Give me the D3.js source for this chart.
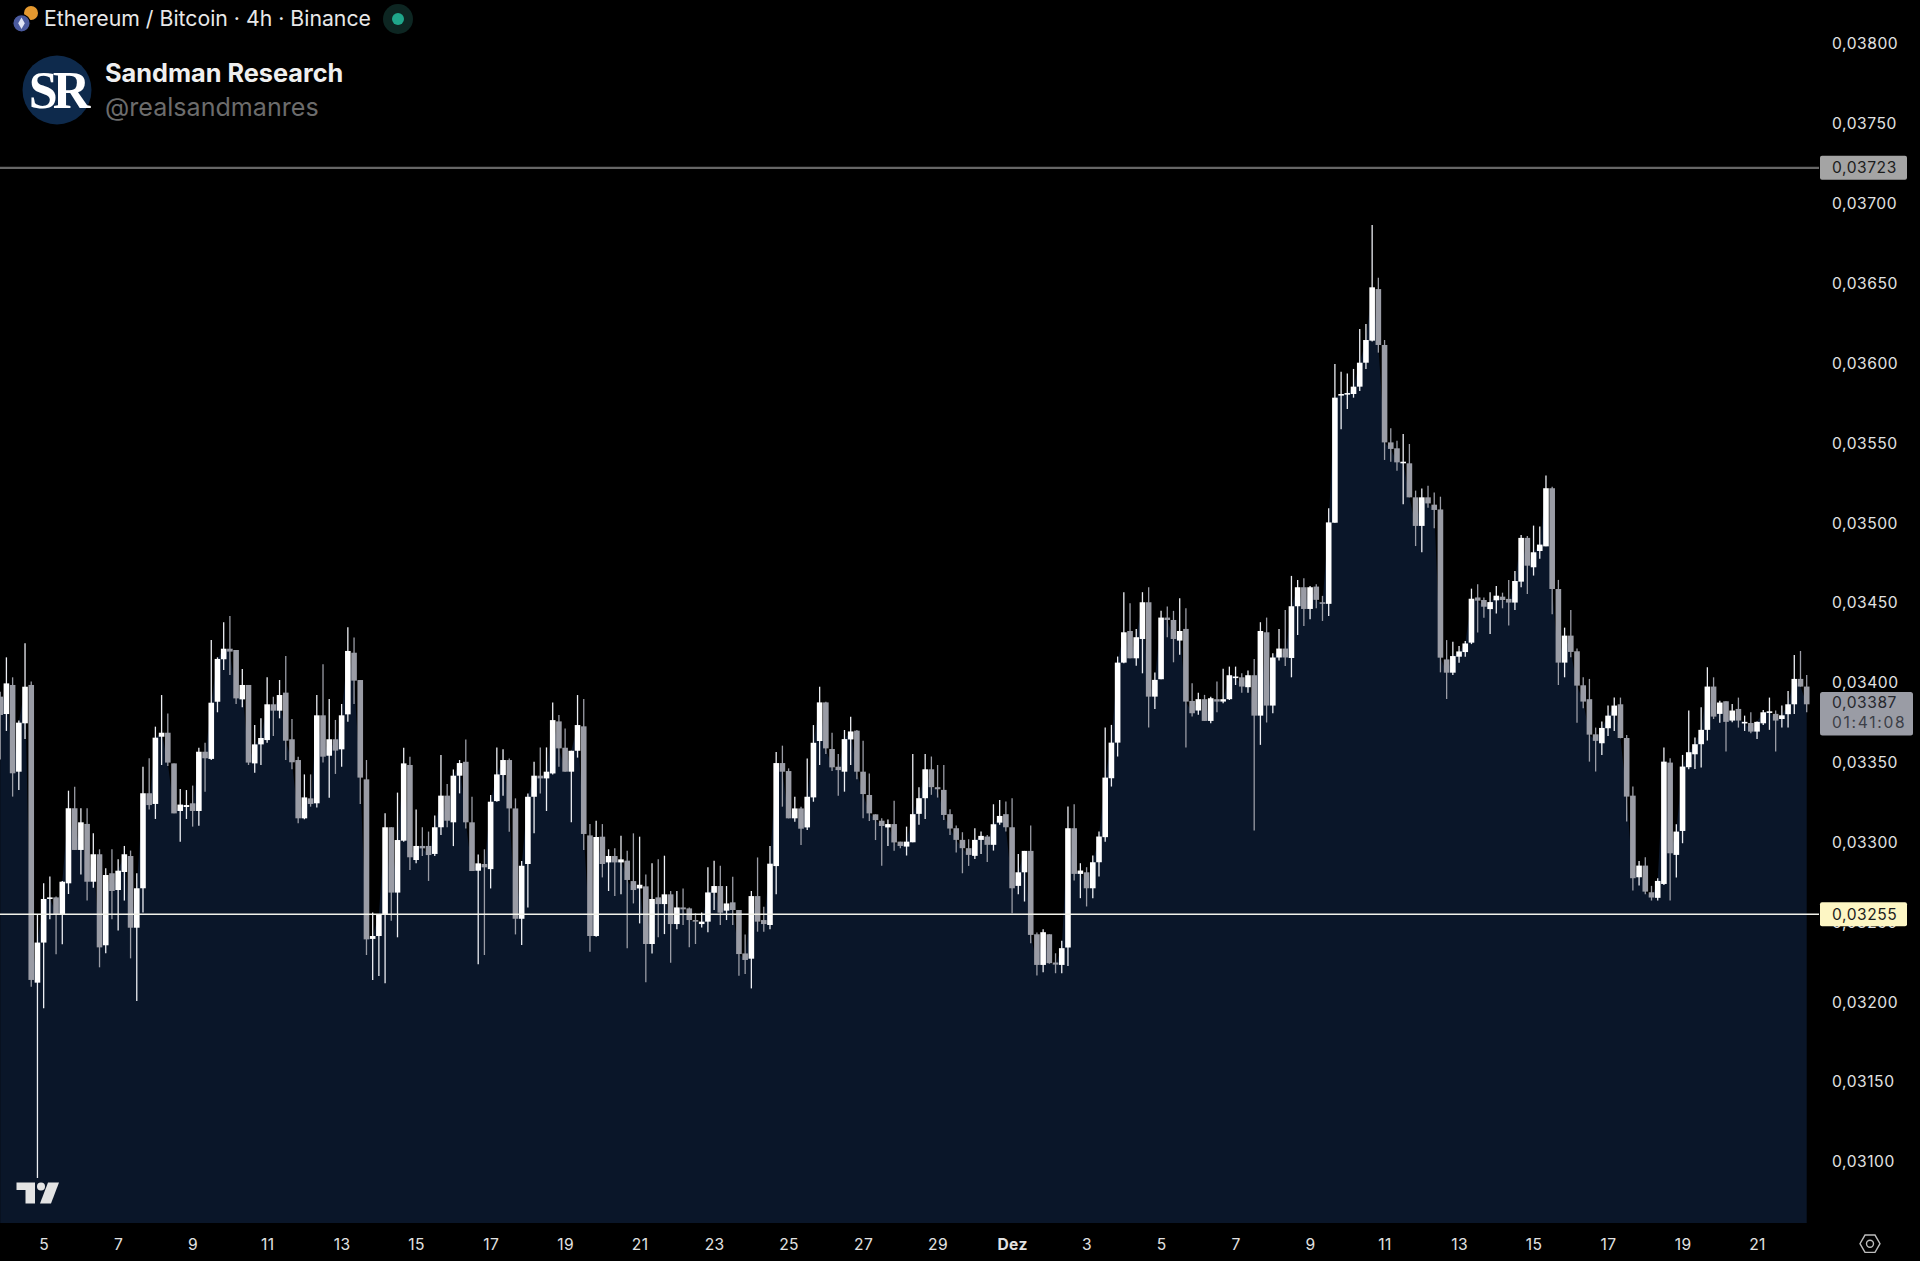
<!DOCTYPE html>
<html><head><meta charset="utf-8">
<style>html,body{margin:0;padding:0;background:#000;overflow:hidden}svg{display:block}text{font-family:Inter,"Noto Sans",sans-serif}</style>
<script src="https://cdn.jsdelivr.net/npm/d3@7/dist/d3.min.js"></script>
</head><body><svg id="c" width="1920" height="1261"></svg>
<script>
// Prices in units of 0.00001 BTC
const opens=[3390.9,3380.0,3398.2,3343.9,3374.2,3398.2,3211.8,3236.9,3264.4,3265.2,
3254.6,3274,3321,3294.9,3311.2,3275,3292.2,3235.2,3280.3,3269.8,
3281.1,3291.1,3246.2,3270.9,3330.4,3323.7,3365.8,3368.3,3349.1,3319.3,
3321.8,3324.1,3319.3,3356.4,3351.9,3387.7,3414.3,3420.9,3420.1,3389.2,
3398.2,3349.1,3361,3363.7,3386.1,3382.1,3393.4,3364.2,3351.2,3314.7,
3327.2,3324.1,3379.2,3353.9,3364.2,3357.9,3379.8,3418.4,3401.3,3339.1,
3239.2,3241,3254.6,3309.1,3268.2,3300.7,3348.1,3288.6,3297.4,3297.4,
3292.4,3309.1,3328.9,3312.2,3341.4,3350.1,3312.2,3281.9,3286.1,3282.9,
3325.5,3341.8,3351.2,3320.9,3251.8,3286.1,3328.2,3341.4,3339.7,3342.8,
3375.4,3358.9,3343.9,3357,3372.3,3304,3241,3303.2,3287.1,3291.1,
3287.1,3288.2,3275.4,3270.8,3272.1,3236,3265.2,3261,3267.1,3248.5,
3258.9,3258.3,3251,3248.5,3250,3268.1,3272.3,3256.9,3262.1,3257.3,
3230.1,3226.8,3266,3251,3247.9,3284.8,3349.3,3344.3,3314.7,3320.9,
3309,3327.8,3363.1,3387.3,3358.1,3347,3343.9,3364.1,3369.6,3343.9,
3329.3,3317.2,3313.2,3309,3311.1,3300.1,3297,3299.7,3317.5,3327.3,
3345.4,3334.2,3332.5,3317.3,3308.5,3301.2,3296,3291.2,3301.2,3303.3,
3298.1,3312,3317.3,3309.1,3272.4,3280.9,3294.3,3242.1,3222.9,3242.1,
3224.4,3222.9,3233.8,3308.5,3279.9,3280.9,3270.9,3287.2,3302.9,3339.8,
3362.1,3412.2,3432,3414.9,3427,3450,3390.9,3401.8,3440.4,3438.9,
3426,3433.3,3388.2,3382.2,3389.3,3375.7,3389.3,3387.8,3389.3,3402.6,
3403,3396.8,3404.3,3379,3431.2,3385.3,3415.4,3421,3415.1,3447.5,
3459.4,3445.8,3459.8,3450,3449,3499.8,3579.4,3580,3580.4,3585,
3600,3613.8,3646.1,3611.1,3550.1,3546.4,3537,3537,3515.7,3497.8,
3515.7,3511.1,3508.1,3414.2,3405.9,3415.9,3418.8,3424.7,3453,3451.4,
3445.7,3451.2,3453.5,3452.1,3449.8,3462.9,3490.3,3471.9,3482.1,3485,
3521.4,3458.3,3412.2,3429.1,3419.3,3398,3389.3,3367.3,3361.7,3371.1,
3379,3386.1,3365,3328.9,3277.8,3285.1,3268.4,3264.9,3273.6,3349.6,
3291.8,3306.8,3346.7,3354.8,3361.1,3370.1,3397.2,3380.1,3388,3375.9,
3383.2,3374.4,3374.4,3369,3374.2,3380.9,3380.1,3376.9,3379.9,3386.1,3402,3397.2];
const highs=[3394,3415.5,3403,3375.9,3424.3,3400.3,3254.2,3274,3278.2,3265.7,
3275.5,3332,3334.5,3321,3321,3305.3,3295.3,3283.4,3295.3,3289,
3297.4,3294.5,3280.3,3347,3352.3,3372.1,3391.9,3380.4,3349.1,3333.1,
3332.4,3335.2,3358.9,3362.1,3426.4,3415.5,3437.4,3441.4,3420.1,3408.2,
3398.2,3373.1,3377.3,3403,3390.9,3401.3,3416.3,3376.9,3353.3,3342.2,
3342.2,3391.9,3411.1,3389.4,3376.3,3386.3,3434.3,3428,3401.3,3351.2,
3255.8,3254.6,3317.8,3309.1,3330.8,3358.9,3353.3,3320.3,3309.1,3306.4,
3316.4,3354.4,3336.2,3345.3,3351.2,3364.1,3328.2,3292.1,3295.3,3329.3,
3359.1,3357.9,3352.2,3327.2,3288,3330.3,3350.1,3359.1,3359.1,3387.3,
3379.4,3371,3357,3391.9,3389.4,3311.1,3313.2,3311.1,3295.3,3295.9,
3303.8,3294.4,3305.3,3303.2,3279.6,3286.5,3289,3291.3,3269.2,3269.2,
3270.8,3258.9,3255.2,3255.8,3284,3288.2,3285,3272.3,3278.1,3257.3,
3242,3269.2,3290.2,3259.4,3297.3,3356.2,3360.2,3346,3328.2,3322,
3352.2,3373.1,3397.1,3387.7,3368.3,3354.9,3370,3378.3,3370,3363.3,
3342.8,3317.2,3314.7,3314,3325.7,3300.1,3309.5,3355,3334.2,3355,
3353.4,3348.1,3348.1,3320.4,3310.2,3306,3301.6,3308.5,3306.4,3304.3,
3323.5,3326.2,3325.2,3327.3,3292.4,3294.3,3310.2,3243.2,3245.3,3242.1,
3230.2,3238,3322.1,3323.5,3286.6,3284.1,3291.4,3306.4,3371.5,3373.2,
3416,3456.3,3449.4,3433.3,3456.3,3459.4,3406,3444.6,3447.3,3444.6,
3452.5,3446.2,3399.3,3393.4,3392,3390.9,3400.3,3408.3,3409.7,3409.7,
3405.5,3407.2,3414.5,3437.5,3440.4,3418.1,3433.3,3445.2,3466.5,3464,
3465,3460.2,3461.3,3454,3508.8,3599.2,3594.4,3593.3,3596.1,3621.1,
3624.2,3686.2,3653.2,3614.2,3558.9,3551.2,3555.4,3549.1,3519.9,3521.3,
3523,3518.8,3516.1,3426.3,3425.3,3422.6,3425.7,3458.5,3461.2,3453,
3456.2,3460.1,3456,3464,3469.6,3492.1,3491.5,3498,3497.4,3529.3,
3522.4,3464,3434.1,3445.2,3421,3403,3402,3371.5,3375.3,3385.3,
3390.3,3390.3,3366.9,3334.6,3288,3290.3,3272.4,3277.2,3359,3352.3,
3311,3354.4,3382.2,3365.3,3384.2,3409.3,3403,3388.4,3388,3386.3,
3390.3,3379,3381.1,3375.3,3382.6,3390.3,3382.2,3385.3,3394.5,3417,3419.5,3404.5];
const lows=[3351.6,3369.4,3328.3,3332.4,3364.4,3209.3,3089.5,3195.7,3251.5,3229.6,
3235.8,3267.3,3294.9,3279.6,3263.2,3271.3,3221.4,3230.2,3251.5,3244.4,
3263.2,3227,3200.3,3255.8,3320.3,3314.3,3348.1,3347.5,3317.8,3300.1,
3314.3,3309.5,3310.1,3331.4,3351.2,3381.1,3407.6,3404.4,3386.3,3384.2,
3348.1,3343.3,3348.1,3362.1,3366.3,3377.3,3351.2,3345.4,3311.6,3314.1,
3322,3321.4,3349.6,3327.6,3342.5,3347,3375.2,3386.3,3323.7,3229.1,
3213.5,3216,3211.4,3250.6,3240.2,3300.1,3282.4,3286.5,3291.1,3275.5,
3291.1,3304.3,3309.1,3297.3,3330.3,3308.4,3281.7,3223.3,3229.1,3270.8,
3325.1,3328.9,3306.3,3242,3235.4,3258.9,3305.3,3330.3,3319.3,3342.2,
3347,3343.9,3312.2,3352.7,3294.8,3231.2,3240.6,3277.7,3269.2,3266,
3267.1,3233.3,3261.4,3248.9,3212,3230.1,3240.2,3242.2,3224.3,3245.2,
3247.9,3233.9,3236,3246.4,3243.3,3257.3,3247.9,3251,3247.9,3216.2,
3217.2,3208.2,3243.7,3243.7,3245.2,3267.1,3322,3314.7,3312.6,3298,
3307.4,3325.1,3348.1,3354.9,3344.3,3328.9,3331.4,3348.1,3339.1,3314.7,
3313,3301.1,3285,3297.3,3294.4,3296,3291.4,3299.7,3310.6,3314.3,
3329.4,3327.7,3313.7,3304.3,3293.3,3280.3,3284.9,3289.3,3292.4,3287.4,
3294.5,3310.6,3306.4,3255.3,3267.2,3262.6,3236.5,3216.3,3218.3,3223.6,
3217.7,3217.7,3222.3,3275.7,3264.7,3259.5,3264.7,3278.2,3300.1,3334.6,
3353.4,3411.8,3414.9,3410.3,3405.5,3371.5,3383.2,3401.8,3428.1,3412.4,
3417.2,3359,3378.4,3379.5,3375.7,3374.2,3381.1,3386.8,3388.8,3398.2,
3393.4,3393.4,3307,3360.7,3374.7,3380.5,3413.5,3410.1,3403,3429.5,
3435.2,3439.4,3446.2,3438.3,3441.4,3499.8,3558.3,3571,3578.1,3582.3,
3596.1,3613.2,3606.3,3539.1,3538,3532.4,3511.3,3515.7,3485.2,3481.3,
3509.2,3496.3,3406.1,3389.4,3404.4,3412.1,3415.9,3423.8,3431.1,3440.3,
3430.1,3443,3446.2,3435.4,3445.2,3459.4,3455.2,3466.7,3477.3,3485,
3442.5,3398.2,3403,3415.5,3374.6,3383.6,3350.2,3344,3354.4,3366.3,
3369.4,3364.8,3312.7,3269.5,3272.6,3267.2,3263.2,3263.2,3273,3263.2,
3277.6,3299.1,3345.4,3345.6,3346.5,3363.4,3376.9,3374.6,3356.5,3374.9,
3371.5,3369.4,3368,3364.4,3373.2,3370.1,3356.5,3371.5,3371.5,3380.1,3397.2,3381.1];
const closes=[3379.4,3399.2,3342.9,3374.6,3397.1,3213.5,3236.9,3264.2,3265.2,3254.6,
3275,3321,3294.9,3312.2,3275,3292.2,3233.9,3279.2,3269.2,3281.9,
3292.2,3246.2,3270.9,3330.4,3323,3365.2,3368.3,3349.6,3317.8,3323.3,
3323,3319.3,3356.4,3352.3,3387.1,3414.5,3420.9,3419.1,3389.8,3398.2,
3349.6,3361,3365,3386.1,3382.1,3391.9,3363.3,3349.8,3314.7,3327.8,
3323.7,3379.2,3353.3,3364.2,3357.1,3379.2,3419.5,3400.9,3340.2,3238.9,
3241,3254.6,3309.1,3268.2,3301.1,3349.1,3290.3,3297.4,3295.9,3291.7,
3309.1,3328.9,3313.2,3341.4,3349.3,3312.2,3281.7,3286.5,3284,3325.1,
3342.2,3351.2,3320.9,3251.8,3285,3328.2,3341.4,3339.7,3343.9,3376.2,
3358.5,3343.9,3357,3373.1,3304.9,3241,3303,3286.1,3291.1,3287.1,
3289,3276.1,3269.8,3273.1,3236,3264.2,3261,3267.1,3248.5,3258.9,
3257.7,3251,3250,3250,3268.3,3272.3,3255.6,3261.4,3257.3,3229.7,
3226,3266,3250,3248.5,3286.3,3349.3,3343.9,3314.7,3320.9,3308.2,
3328.2,3362,3387.3,3358.5,3346.6,3344.9,3364.3,3369.1,3343.9,3329.9,
3317.8,3313.6,3309.9,3311.1,3299.6,3297.4,3300.1,3317.3,3327.3,3345.4,
3334.2,3332.9,3316.8,3308.3,3301.2,3296,3291.8,3301.2,3303.7,3298.1,
3311,3316.2,3309.1,3270.9,3280.9,3294.3,3241.7,3222.9,3243.4,3224,
3223.1,3233.4,3308.5,3279.9,3282,3270.9,3287.2,3303.3,3340.2,3362.1,
3412.2,3431.2,3414.9,3428.1,3450,3390.9,3401.4,3440.4,3438.9,3427,
3432,3387.8,3380.5,3389.3,3375.7,3389.9,3387.8,3389.3,3404.3,3403.5,
3397.2,3404.3,3379,3432,3385.3,3415.4,3421,3415.4,3447.5,3459.4,
3445.8,3459.4,3451.5,3449.2,3500,3578.1,3580.4,3581,3585,3600,
3614.2,3647.2,3611.1,3550.1,3546,3537.6,3538,3515.7,3497.8,3515.7,
3511.9,3507.8,3415.3,3405.9,3416.3,3419.2,3424.2,3452.2,3451,3447.2,
3450.1,3454.1,3451.4,3449.8,3463.3,3490.3,3472.9,3481.3,3486.1,3521.4,
3458.3,3412.2,3429.1,3418.9,3397.8,3387.8,3367.1,3363.2,3371.3,3379,
3385.3,3365,3328.3,3277.2,3285.1,3268.8,3265.1,3275.5,3350.2,3292.8,
3306.4,3347.1,3356.1,3361.1,3370.1,3397.2,3378.4,3387.2,3375.1,3382.2,
3375.9,3375.1,3369,3375.1,3381.1,3381.7,3375.9,3379.2,3386.1,3402,3397.2,3386.1];

const priceTicks=[3800,3750,3700,3650,3600,3550,3500,3450,3400,3350,3300,3250,3200,3150,3100];
const dateLabels=["5","7","9","11","13","15","17","19","21","23","25","27","29","Dez","3","5","7","9","11","13","15","17","19","21"];
const dateFirstIndex=7, dateStep=12;
const resistance=3722, support=3254.6;
const resistanceLabel="0,03723", supportLabel="0,03255", lastLabel="0,03387", countdown="01:41:08";
const title="Ethereum / Bitcoin · 4h · Binance", brand="Sandman Research", handle="@realsandmanres";

const W=1920,H=1261,plotBottom=1223,lineRight=1819;
const svg=d3.select("#c");
const x=d3.scaleLinear().domain([0,291]).range([0.2,1806.7]);
const y=d3.scaleLinear().domain([3800,3100]).range([43.3,1161.2]);
const fmt=v=>d3.format(".5f")(v/1e5).replace(".",",");
const UP="#ffffff",DOWN="#9a9ca5",TICK="#e2e2e2",FONT="Inter, 'Noto Sans', sans-serif";
const idx=d3.range(closes.length);

svg.append("rect").attr("width",W).attr("height",H).attr("fill","#000");

// area
svg.append("path").attr("fill","#0a1629")
 .attr("d",d3.area().x(i=>x(i)).y0(plotBottom).y1(i=>y(closes[i]))(idx));

// wicks & bodies
const g=svg.append("g");
g.selectAll("line.w").data(idx).join("line").attr("class","w")
 .attr("x1",i=>x(i)).attr("x2",i=>x(i)).attr("y1",i=>y(highs[i])).attr("y2",i=>y(lows[i]))
 .attr("stroke",i=>closes[i]>=opens[i]?"#eceef3":DOWN).attr("stroke-width",1.3);
g.selectAll("rect.b").data(idx).join("rect").attr("class","b")
 .attr("x",i=>x(i)-2.8).attr("width",5.6)
 .attr("y",i=>y(Math.max(opens[i],closes[i])))
 .attr("height",i=>Math.max(1.6,Math.abs(y(opens[i])-y(closes[i]))))
 .attr("fill",i=>closes[i]>=opens[i]?UP:DOWN);

// axis ticks (price)
const yAxis=d3.axisRight(y).tickValues(priceTicks).tickFormat(fmt).tickSize(0).tickPadding(0);
const ya=svg.append("g").attr("transform","translate(1832,0)").call(yAxis);
ya.select(".domain").remove();
ya.selectAll("text").attr("fill",TICK).attr("font-size",15.6).attr("font-family",FONT).attr("letter-spacing","0.55px").attr("x",0).attr("dy","0.36em");

// axis ticks (date)
const dateTicks=dateLabels.map((_,k)=>dateFirstIndex+k*dateStep);
const xAxis=d3.axisBottom(x).tickValues(dateTicks).tickFormat((_,k)=>dateLabels[k]).tickSize(0).tickPadding(0);
const xa=svg.append("g").attr("transform","translate(0,1244)").call(xAxis);
xa.select(".domain").remove();
xa.selectAll("text").attr("fill",TICK).attr("font-size",15.6).attr("font-family",FONT).attr("letter-spacing","0.4px").attr("y",0).attr("dy","0.36em")
 .attr("font-weight",(_,k)=>dateLabels[k]==="Dez"?700:400);

// levels
svg.append("line").attr("x1",0).attr("x2",lineRight).attr("y1",y(resistance)).attr("y2",y(resistance)).attr("stroke","#666666").attr("stroke-width",2.2);
svg.append("line").attr("x1",0).attr("x2",lineRight).attr("y1",y(support)).attr("y2",y(support)).attr("stroke","#f2f2ea").attr("stroke-width",1.5);

function tag(val,label,fill,color,w,h){
  const cy=y(val);
  svg.append("rect").attr("x",1820).attr("y",cy-h/2).attr("width",w).attr("height",h).attr("rx",2).attr("fill",fill);
  svg.append("text").attr("x",1832).attr("y",cy).attr("dy","0.36em").attr("fill",color).attr("font-size",15.6).attr("letter-spacing","0.55px").text(label);
}
tag(resistance,resistanceLabel,"#a4a4a4","#1c1c1c",87,24);
tag(support,supportLabel,"#fdf6c4","#1c1c1c",87,24);
// last price tag
svg.append("rect").attr("x",1820).attr("y",692).attr("width",93).attr("height",43.5).attr("rx",2.5).attr("fill","#9a9ca5");
svg.append("text").attr("x",1832).attr("y",702).attr("dy","0.36em").attr("fill","#26282e").attr("font-size",15.6).attr("letter-spacing","0.55px").text(lastLabel);
svg.append("text").attr("x",1832).attr("y",722).attr("dy","0.36em").attr("fill","#3c3f47").attr("font-size",15.6).attr("letter-spacing","1.7px").text(countdown);

// header
svg.append("circle").attr("cx",31).attr("cy",13).attr("r",7).attr("fill","#e5992f");
svg.append("circle").attr("cx",21.5).attr("cy",23.3).attr("r",8.7).attr("fill","#4a5a9e").attr("stroke","#000").attr("stroke-width",1.2);
svg.append("path").attr("d","M21.5 17.5L24.8 23.3L21.5 29L18.2 23.3Z").attr("fill","#dfe4f5");
svg.append("text").attr("x",44).attr("y",26).attr("fill","#e8e8e8").attr("font-size",21.25).text(title);
svg.append("circle").attr("cx",398).attr("cy",19).attr("r",15).attr("fill","#0d2622");
svg.append("circle").attr("cx",398).attr("cy",19).attr("r",6).attr("fill","#1fa68a");

// avatar & brand
svg.append("circle").attr("cx",57).attr("cy",90).attr("r",34.5).attr("fill","#0e2a4c");
svg.append("text").attr("x",57).attr("y",108).attr("text-anchor","middle").attr("fill","#fff").attr("font-size",52).attr("font-weight",700).attr("letter-spacing","-5px").style("font-family","'Liberation Serif',serif").text("SR");
svg.append("text").attr("x",105).attr("y",82).attr("fill","#efefef").attr("font-size",25.3).attr("font-weight",700).text(brand);
svg.append("text").attr("x",105).attr("y",116).attr("fill","#6c6c6c").attr("font-size",25.1).text(handle);

// TradingView mark
const tv=svg.append("g").attr("transform","translate(0,1160)").attr("fill","#e4e4e4");
tv.append("path").attr("d","M16.5 22.5H35V43.5H25.5V30H16.5Z");
tv.append("circle").attr("cx",41).attr("cy",26.5).attr("r",4);
tv.append("path").attr("d","M48 22.5H59L51 43.5H40Z");

// settings icon
const hex=d3.range(6).map(k=>{const a=k*Math.PI/3;return [1870+10*Math.cos(a),1243.7+10*Math.sin(a)]});
svg.append("path").attr("d",d3.line()(hex)+"Z").attr("fill","none").attr("stroke","#bdbdbd").attr("stroke-width",1.4);
svg.append("circle").attr("cx",1870).attr("cy",1243.7).attr("r",3.5).attr("fill","none").attr("stroke","#bdbdbd").attr("stroke-width",1.4);
</script></body></html>
